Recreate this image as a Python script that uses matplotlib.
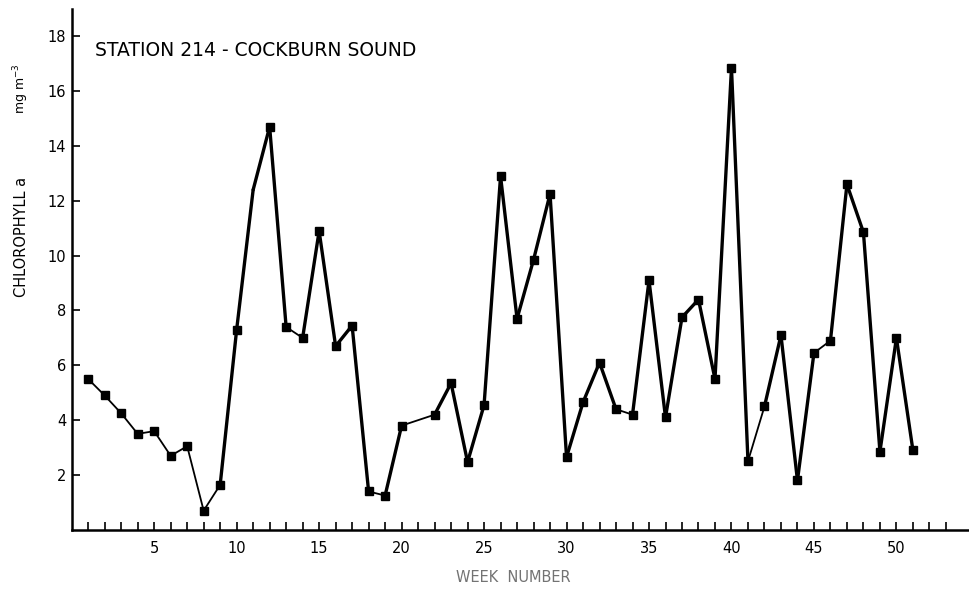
"""
Station 214 - Cockburn Sound: chlorophyll a per week.
"""

import numpy as np
import matplotlib.pyplot as plt
from matplotlib.collections import LineCollection

# week numbers (week 21 has no sample)
weeks = [1, 2, 3, 4, 5, 6, 7, 8, 9, 10, 11, 12, 13, 14, 15, 16, 17, 18, 19, 20,
         22, 23, 24, 25, 26, 27, 28, 29, 30, 31, 32, 33, 34, 35, 36, 37, 38, 39,
         40, 41, 42, 43, 44, 45, 46, 47, 48, 49, 50, 51]
chl = [5.5, 4.9, 4.25, 3.5, 3.6, 2.7, 3.05, 0.7, 1.64, 7.3, 12.4, 14.7, 7.4, 7.0,
       10.9, 6.7, 7.45, 1.4, 1.25, 3.8,
       4.2, 5.35, 2.47, 4.55, 12.9, 7.7, 9.85, 12.25, 2.65, 4.65, 6.1, 4.4, 4.2,
       9.1, 4.1, 7.75, 8.4, 5.5, 16.85, 2.5, 4.5, 7.1, 1.8, 6.45, 6.9, 12.6,
       10.85, 2.85, 7.0, 2.9]
# week 11 is only a kink in the line, no marker drawn
no_marker = [11]
# segments drawn with a thin pen (start week of segment)
thin_from = [1, 2, 3, 4, 5, 6, 7, 8, 13, 18, 20, 33, 41, 45]

yticks = [2, 4, 6, 8, 10, 12, 14, 16, 18]
xlabels = [5, 10, 15, 20, 25, 30, 35, 40, 45, 50]


def plot_station():
    fig = plt.figure(figsize=(9.69, 5.92), dpi=100)
    ax = fig.add_axes([0.074, 0.105, 0.926, 0.88])

    w = np.array(weeks)
    c = np.array(chl)
    pts = np.column_stack([w, c])
    segs = np.stack([pts[:-1], pts[1:]], axis=1)
    lws = [1.3 if w0 in thin_from else 2.4 for w0 in w[:-1]]
    ax.add_collection(LineCollection(segs, colors='black', linewidths=lws,
                                     capstyle='round', joinstyle='round'))
    m = ~np.isin(w, no_marker)
    ax.plot(w[m], c[m], ls='none', marker='s', ms=6, color='black')

    ax.set_xlim(0, 54.4)
    ax.set_ylim(0, 19.0)

    for s in ['top', 'right']:
        ax.spines[s].set_visible(False)
    ax.spines['left'].set_linewidth(1.8)
    ax.spines['bottom'].set_linewidth(1.8)

    ax.set_yticks(yticks)
    ax.set_xticks(xlabels)
    ax.set_xticks(np.arange(1, 54), minor=True)
    ax.tick_params(axis='y', direction='in', length=6, width=1.2, labelsize=10.5, pad=4)
    ax.tick_params(axis='x', which='both', direction='in', length=6, width=1.2,
                   labelsize=10.5, pad=8)

    ax.text(0.026, 0.92, 'STATION 214 - COCKBURN SOUND', transform=ax.transAxes,
            fontsize=13.5, ha='left', va='center')

    fig.text(0.022, 0.60, 'CHLOROPHYLL a', rotation=90, fontsize=10.5,
             ha='center', va='center')
    fig.text(0.022, 0.85, 'mg m$^{-3}$', rotation=90, fontsize=9,
             ha='center', va='center')
    fig.text(0.53, 0.025, 'WEEK  NUMBER', fontsize=10.5, color='0.45',
             ha='center', va='center')

    return fig


if __name__ == "__main__":
    fig = plot_station()
    fig.savefig("out.png", dpi=100)
